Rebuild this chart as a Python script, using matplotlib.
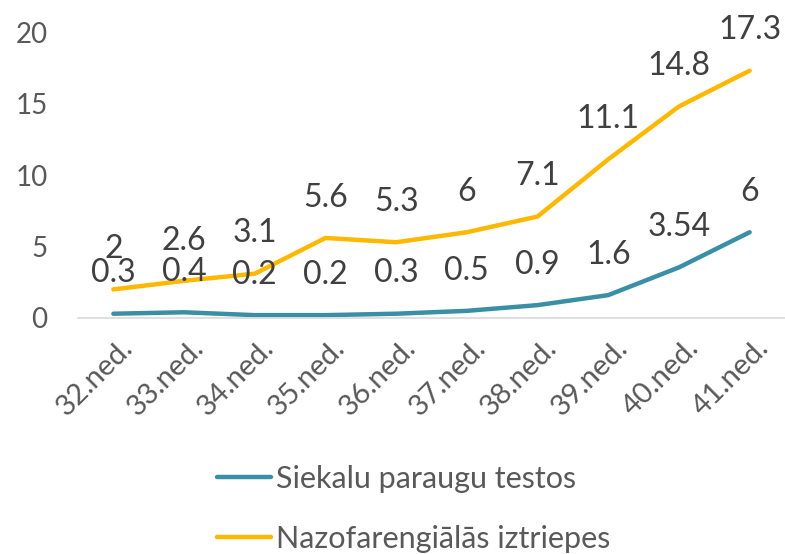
import matplotlib
matplotlib.use('Agg')
import matplotlib.pyplot as plt
import matplotlib.transforms as mtransforms

plt.rcParams['font.family'] = ['Lato', 'DejaVu Sans']

weeks = ['32.ned.', '33.ned.', '34.ned.', '35.ned.', '36.ned.',
         '37.ned.', '38.ned.', '39.ned.', '40.ned.', '41.ned.']
saliva = [0.3, 0.4, 0.2, 0.2, 0.3, 0.5, 0.9, 1.6, 3.54, 6]
nasal = [2, 2.6, 3.1, 5.6, 5.3, 6, 7.1, 11.1, 14.8, 17.3]
saliva_labels = ['0.3', '0.4', '0.2', '0.2', '0.3', '0.5', '0.9', '1.6', '3.54', '6']
nasal_labels = ['2', '2.6', '3.1', '5.6', '5.3', '6', '7.1', '11.1', '14.8', '17.3']

teal = '#3A8FA6'
gold = '#FFB800'
txt = '#404040'

fig = plt.figure(figsize=(7.85, 5.54), dpi=100)
ax = fig.add_axes([0.0994, 0.426, 0.9006, 0.516])

x = list(range(len(weeks)))
ax.plot(x, saliva, color=teal, lw=3.2, solid_capstyle='round', label='Siekalu paraugu testos')
ax.plot(x, nasal, color=gold, lw=3.2, solid_capstyle='round', label='Nazofarengiālās iztriepes')

for i in x:
    ax.annotate(saliva_labels[i], (i, saliva[i]), xytext=(0, 29), textcoords='offset points',
                ha='center', va='center', fontsize=23, color=txt)
    ax.annotate(nasal_labels[i], (i, nasal[i]), xytext=(0, 29), textcoords='offset points',
                ha='center', va='center', fontsize=23, color=txt)

ax.set_xlim(-0.5, len(weeks) - 0.5)
ax.set_ylim(0, 20)
ax.set_yticks([0, 5, 10, 15, 20])
ax.set_xticks(x)
ax.set_xticklabels(weeks, rotation=45, ha='right', rotation_mode='anchor')
ax.tick_params(axis='both', length=0, labelsize=20, colors='#595959')
ax.tick_params(axis='x', labelsize=21, pad=12)
ax.tick_params(axis='y', pad=22)
shift = mtransforms.ScaledTranslation(6 / 100, 0, fig.dpi_scale_trans)
for lab in ax.get_xticklabels():
    lab.set_transform(lab.get_transform() + shift)
for s in ['top', 'right', 'left']:
    ax.spines[s].set_visible(False)
ax.spines['bottom'].set_color('#D9D9D9')
ax.spines['bottom'].set_linewidth(1.2)

leg = fig.legend(loc='lower center', bbox_to_anchor=(0.527, -0.048), ncol=1, frameon=False,
                 fontsize=22, handlelength=1.75, handletextpad=0.15, labelspacing=1.05,
                 labelcolor='#595959')

fig.savefig('out.png', dpi=100)
